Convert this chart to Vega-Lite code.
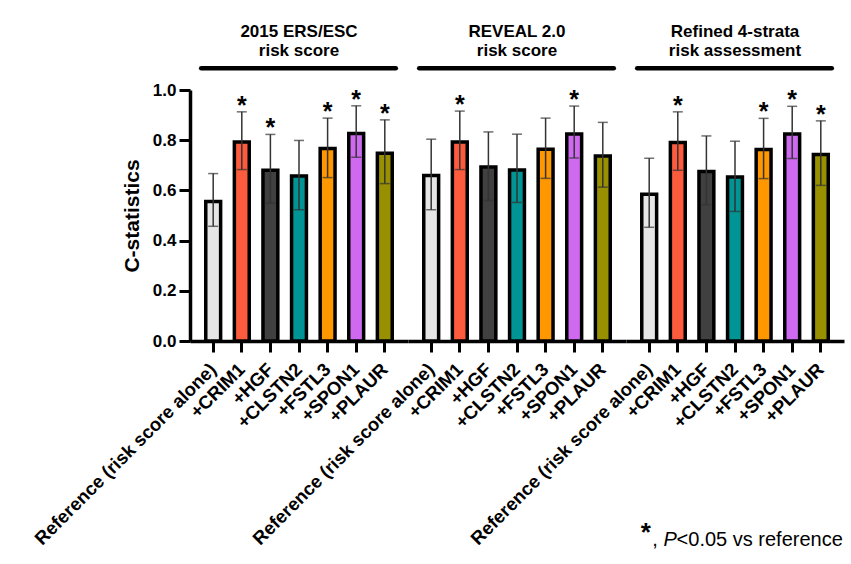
{
  "$schema": "https://vega.github.io/schema/vega-lite/v6.json",
  "padding": {"left": 31, "top": 22, "right": 5, "bottom": 5},
  "background": "white",
  "config": {"font": "Liberation Sans", "view": {"stroke": null},
    "axisY": {"values": [0, 0.2, 0.4, 0.6, 0.8, 1], "format": ".1f", "grid": false, "labelFontSize": 17, "labelFontWeight": "bold", "labelColor": "black", "labelPadding": 3, "tickSize": 11, "tickWidth": 3, "tickColor": "black", "domainWidth": 3.5, "domainColor": "black", "titleFontSize": 21, "titleFontWeight": "bold", "titleColor": "black", "titlePadding": 10}},
  "data": {"values": [
    {"group": "2015 ERS/ESC|risk score", "item": "Reference (risk score alone)", "value": 0.556, "lower": 0.457, "upper": 0.667, "sig": false},
    {"group": "2015 ERS/ESC|risk score", "item": "+CRIM1", "value": 0.793, "lower": 0.683, "upper": 0.913, "sig": true},
    {"group": "2015 ERS/ESC|risk score", "item": "+HGF", "value": 0.680, "lower": 0.549, "upper": 0.823, "sig": true},
    {"group": "2015 ERS/ESC|risk score", "item": "+CLSTN2", "value": 0.657, "lower": 0.523, "upper": 0.799, "sig": false},
    {"group": "2015 ERS/ESC|risk score", "item": "+FSTL3", "value": 0.767, "lower": 0.651, "upper": 0.888, "sig": true},
    {"group": "2015 ERS/ESC|risk score", "item": "+SPON1", "value": 0.827, "lower": 0.732, "upper": 0.937, "sig": true},
    {"group": "2015 ERS/ESC|risk score", "item": "+PLAUR", "value": 0.748, "lower": 0.627, "upper": 0.881, "sig": true},
    {"group": "REVEAL 2.0|risk score", "item": "Reference (risk score alone)", "value": 0.659, "lower": 0.523, "upper": 0.804, "sig": false},
    {"group": "REVEAL 2.0|risk score", "item": "+CRIM1", "value": 0.793, "lower": 0.683, "upper": 0.916, "sig": true},
    {"group": "REVEAL 2.0|risk score", "item": "+HGF", "value": 0.693, "lower": 0.560, "upper": 0.833, "sig": false},
    {"group": "REVEAL 2.0|risk score", "item": "+CLSTN2", "value": 0.681, "lower": 0.552, "upper": 0.824, "sig": false},
    {"group": "REVEAL 2.0|risk score", "item": "+FSTL3", "value": 0.764, "lower": 0.648, "upper": 0.888, "sig": false},
    {"group": "REVEAL 2.0|risk score", "item": "+SPON1", "value": 0.825, "lower": 0.729, "upper": 0.936, "sig": true},
    {"group": "REVEAL 2.0|risk score", "item": "+PLAUR", "value": 0.737, "lower": 0.613, "upper": 0.871, "sig": false},
    {"group": "Refined 4-strata|risk assessment", "item": "Reference (risk score alone)", "value": 0.585, "lower": 0.453, "upper": 0.728, "sig": false},
    {"group": "Refined 4-strata|risk assessment", "item": "+CRIM1", "value": 0.791, "lower": 0.680, "upper": 0.913, "sig": true},
    {"group": "Refined 4-strata|risk assessment", "item": "+HGF", "value": 0.675, "lower": 0.543, "upper": 0.817, "sig": false},
    {"group": "Refined 4-strata|risk assessment", "item": "+CLSTN2", "value": 0.653, "lower": 0.516, "upper": 0.796, "sig": false},
    {"group": "Refined 4-strata|risk assessment", "item": "+FSTL3", "value": 0.763, "lower": 0.647, "upper": 0.887, "sig": true},
    {"group": "Refined 4-strata|risk assessment", "item": "+SPON1", "value": 0.825, "lower": 0.727, "upper": 0.935, "sig": true},
    {"group": "Refined 4-strata|risk assessment", "item": "+PLAUR", "value": 0.743, "lower": 0.620, "upper": 0.877, "sig": true}
  ]},
  "facet": {"column": {"field": "group", "type": "nominal", "sort": ["2015 ERS/ESC|risk score", "REVEAL 2.0|risk score", "Refined 4-strata|risk assessment"], "header": null}},
  "spacing": 0,
  "bounds": "flush",
  "spec": {
    "width": 218,
    "height": 251,
    "encoding": {
      "x": {
        "field": "item", "type": "nominal",
        "scale": {"domain": ["Reference (risk score alone)", "+CRIM1", "+HGF", "+CLSTN2", "+FSTL3", "+SPON1", "+PLAUR"], "paddingInner": 0.48, "paddingOuter": 0.551},
        "axis": {"title": null, "labelAngle": -45, "labelAlign": "right", "labelBaseline": "middle", "labelFontSize": 18.5, "labelFontWeight": "bold", "labelColor": "black", "labelLimit": 400, "labelOverlap": false, "labelPadding": 14, "tickSize": 11, "tickWidth": 3, "tickColor": "black", "domainWidth": 3.5, "domainColor": "black"}
      }
    },
    "layer": [
      {
        "mark": {"type": "bar", "stroke": "black", "strokeWidth": 3.5},
        "encoding": {
          "y": {"field": "value", "type": "quantitative", "scale": {"domain": [0, 1]}, "title": "C-statistics"},
          "color": {"field": "item", "type": "nominal", "legend": null,
            "scale": {"domain": ["Reference (risk score alone)", "+CRIM1", "+HGF", "+CLSTN2", "+FSTL3", "+SPON1", "+PLAUR"], "range": ["#e6e6e6", "#fd5b3e", "#404040", "#009494", "#ff9700", "#cf6af0", "#989000"]}}
        }
      },
      {
        "mark": {"type": "rule", "color": "#333333", "strokeWidth": 1.5},
        "encoding": {"y": {"field": "lower", "type": "quantitative", "title": "C-statistics"}, "y2": {"field": "upper"}}
      },
      {
        "mark": {"type": "tick", "color": "#333333", "thickness": 1.5, "size": 10},
        "encoding": {"y": {"field": "upper", "type": "quantitative", "title": "C-statistics"}}
      },
      {
        "mark": {"type": "tick", "color": "#333333", "thickness": 1.5, "size": 10},
        "encoding": {"y": {"field": "lower", "type": "quantitative", "title": "C-statistics"}}
      },
      {
        "transform": [{"filter": "datum.sig"}],
        "mark": {"type": "text", "text": "*", "fontSize": 25, "fontWeight": "bold", "baseline": "alphabetic", "dy": 2, "color": "black"},
        "encoding": {"y": {"field": "upper", "type": "quantitative", "title": "C-statistics"}}
      },
      {
        "transform": [{"filter": "datum.item == 'Reference (risk score alone)'"}],
        "mark": {"type": "text", "fontSize": 17, "fontWeight": "bold", "baseline": "alphabetic", "lineBreak": "|", "lineHeight": 19.5, "color": "black"},
        "encoding": {
          "x": {"datum": "+CLSTN2", "type": "nominal"},
          "y": {"datum": 1.212, "type": "quantitative", "title": "C-statistics"},
          "text": {"field": "group"}
        }
      },
      {
        "transform": [{"filter": "datum.item == 'Reference (risk score alone)'"}],
        "mark": {"type": "rule", "strokeWidth": 4.5, "color": "black", "strokeCap": "round", "xOffset": -12, "x2Offset": 11},
        "encoding": {
          "x": {"datum": "Reference (risk score alone)", "type": "nominal"},
          "x2": {"datum": "+PLAUR"},
          "y": {"datum": 1.0865, "type": "quantitative", "title": "C-statistics"}
        }
      },
      {
        "transform": [{"filter": "datum.item == '+PLAUR' && datum.group == 'Refined 4-strata|risk assessment'"}],
        "mark": {"type": "text", "text": "<0.05 vs reference", "fontSize": 20, "align": "right", "baseline": "alphabetic", "dx": 22, "color": "black"},
        "encoding": {"y": {"datum": -0.817, "type": "quantitative", "title": "C-statistics"}}
      },
      {
        "transform": [{"filter": "datum.item == '+PLAUR' && datum.group == 'Refined 4-strata|risk assessment'"}],
        "mark": {"type": "text", "text": "P", "fontSize": 20, "fontStyle": "italic", "align": "right", "baseline": "alphabetic", "dx": -144, "color": "black"},
        "encoding": {"y": {"datum": -0.817, "type": "quantitative", "title": "C-statistics"}}
      },
      {
        "transform": [{"filter": "datum.item == '+PLAUR' && datum.group == 'Refined 4-strata|risk assessment'"}],
        "mark": {"type": "text", "text": ",", "fontSize": 20, "align": "right", "baseline": "alphabetic", "dx": -163, "color": "black"},
        "encoding": {"y": {"datum": -0.817, "type": "quantitative", "title": "C-statistics"}}
      },
      {
        "transform": [{"filter": "datum.item == '+PLAUR' && datum.group == 'Refined 4-strata|risk assessment'"}],
        "mark": {"type": "text", "text": "*", "fontSize": 26, "fontWeight": "bold", "align": "center", "baseline": "alphabetic", "dx": -175, "dy": -5, "color": "black"},
        "encoding": {"y": {"datum": -0.817, "type": "quantitative", "title": "C-statistics"}}
      }
    ]
  }
}
